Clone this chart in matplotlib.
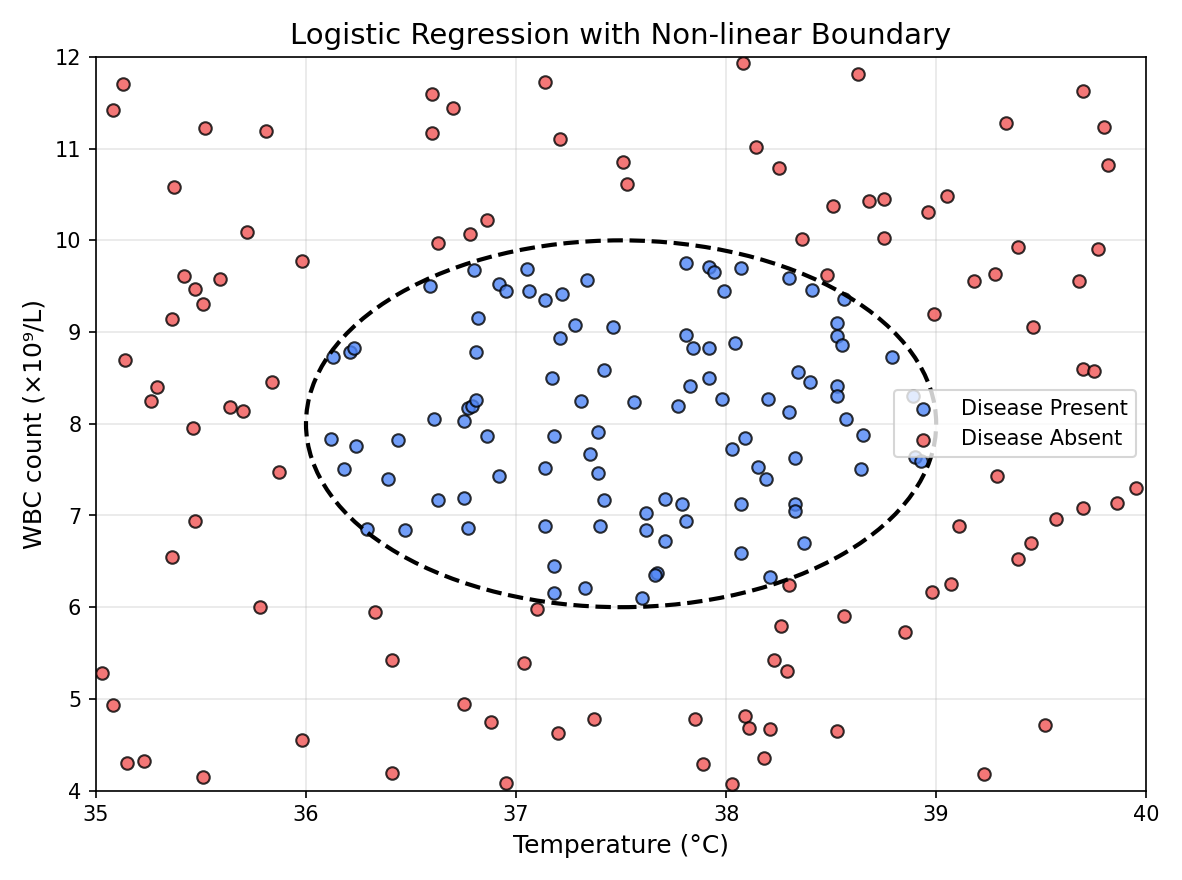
import matplotlib
matplotlib.use("Agg")
import matplotlib.pyplot as plt
from matplotlib.patches import Ellipse

absent_x = [35.13,35.08,35.52,35.81,35.37,35.72,35.98,35.42,35.47,35.59,35.51,35.36,35.14,35.29,35.26,35.84,35.64,35.70,35.46,35.87,35.47,35.36,35.78,35.03,35.08,35.15,35.23,35.51,35.98,36.41,36.41,36.33,36.60,36.70,36.60,36.63,36.78,36.86,37.14,37.21,37.51,37.53,38.08,38.14,38.25,38.63,38.36,38.51,38.68,38.75,38.48,38.75,39.05,38.96,38.99,39.33,39.70,39.80,39.82,39.39,39.18,39.28,39.68,39.77,39.46,39.70,39.75,39.29,39.95,39.86,39.70,39.57,39.11,39.39,39.45,39.07,38.98,38.85,39.52,39.23,38.30,38.56,38.26,38.23,38.29,38.53,38.21,38.09,38.11,38.18,38.03,37.89,37.85,37.37,37.20,37.04,37.10,36.75,36.88,36.95]
absent_y = [11.70,11.42,11.22,11.19,10.58,10.09,9.78,9.61,9.47,9.58,9.31,9.14,8.69,8.40,8.25,8.45,8.18,8.14,7.95,7.47,6.94,6.55,6.00,5.28,4.93,4.30,4.32,4.15,4.55,4.19,5.42,5.95,11.60,11.44,11.17,9.97,10.07,10.22,11.73,11.10,10.85,10.61,11.93,11.02,10.79,11.81,10.02,10.37,10.43,10.45,9.62,10.03,10.48,10.31,9.20,11.28,11.63,11.24,10.82,9.93,9.56,9.63,9.56,9.91,9.05,8.60,8.58,7.43,7.30,7.14,7.08,6.96,6.88,6.53,6.70,6.25,6.17,5.73,4.72,4.18,6.24,5.90,5.79,5.42,5.30,4.65,4.67,4.81,4.68,4.36,4.07,4.29,4.78,4.78,4.63,5.39,5.98,4.94,4.75,4.08]

present_x = [36.13,36.21,36.23,36.12,36.18,36.24,36.29,36.39,36.44,36.47,36.59,36.61,36.63,36.75,36.75,36.77,36.79,36.77,36.80,36.81,36.81,36.82,36.86,36.92,36.95,36.92,37.05,37.06,37.14,37.22,37.21,37.28,37.34,37.17,37.18,37.31,37.14,37.14,37.18,37.18,37.33,37.35,37.39,37.39,37.42,37.42,37.40,37.46,37.56,37.62,37.62,37.60,37.67,37.66,37.71,37.71,37.77,37.79,37.81,37.81,37.81,37.83,37.84,37.92,37.94,37.92,37.92,37.98,37.99,38.07,38.04,38.03,38.09,38.07,38.07,38.15,38.19,38.20,38.21,38.30,38.30,38.33,38.34,38.33,38.33,38.37,38.40,38.41,38.53,38.53,38.53,38.53,38.55,38.56,38.57,38.65,38.64,38.79,38.89,38.90,38.93]
present_y = [8.73,8.78,8.83,7.83,7.51,7.76,6.85,7.40,7.82,6.84,9.50,8.05,7.17,8.03,7.19,8.17,8.19,6.86,9.68,8.78,8.26,9.15,7.87,9.52,9.45,7.43,9.69,9.45,9.35,9.41,8.94,9.08,9.57,8.50,7.87,8.25,7.52,6.89,6.45,6.16,6.21,7.67,7.91,7.46,8.59,7.17,6.88,9.06,8.24,7.03,6.84,6.10,6.37,6.35,6.72,7.18,8.19,7.13,6.94,9.75,8.97,8.41,8.83,9.71,9.65,8.83,8.50,8.27,9.45,9.70,8.88,7.72,7.85,7.12,6.59,7.53,7.40,8.27,6.33,9.59,8.13,7.63,8.56,7.13,7.05,6.70,8.45,9.46,9.10,8.96,8.41,8.30,8.86,9.36,8.05,7.88,7.51,8.73,8.30,7.64,7.59]

fig, ax = plt.subplots(figsize=(7.88, 5.867), dpi=150)
ax.scatter(present_x, present_y, c='#4f86f7', edgecolors='black', alpha=0.8, s=36, linewidths=1, label='Disease Present', zorder=3)
ax.scatter(absent_x, absent_y, c='#f05555', edgecolors='black', alpha=0.8, s=36, linewidths=1, label='Disease Absent', zorder=3)
ax.add_patch(Ellipse((37.5, 8), 3, 4, fill=False, ls='--', lw=2, color='black', zorder=4))
ax.set_xlim(35, 40)
ax.set_ylim(4, 12)
ax.grid(True, alpha=0.3)
ax.set_xlabel('Temperature (°C)', fontsize=12)
ax.set_ylabel('WBC count (×10⁹/L)', fontsize=12)
ax.set_title('Logistic Regression with Non-linear Boundary', fontsize=14)
ax.legend(loc='center right')
fig.tight_layout()
fig.savefig('out.png', dpi=150)
